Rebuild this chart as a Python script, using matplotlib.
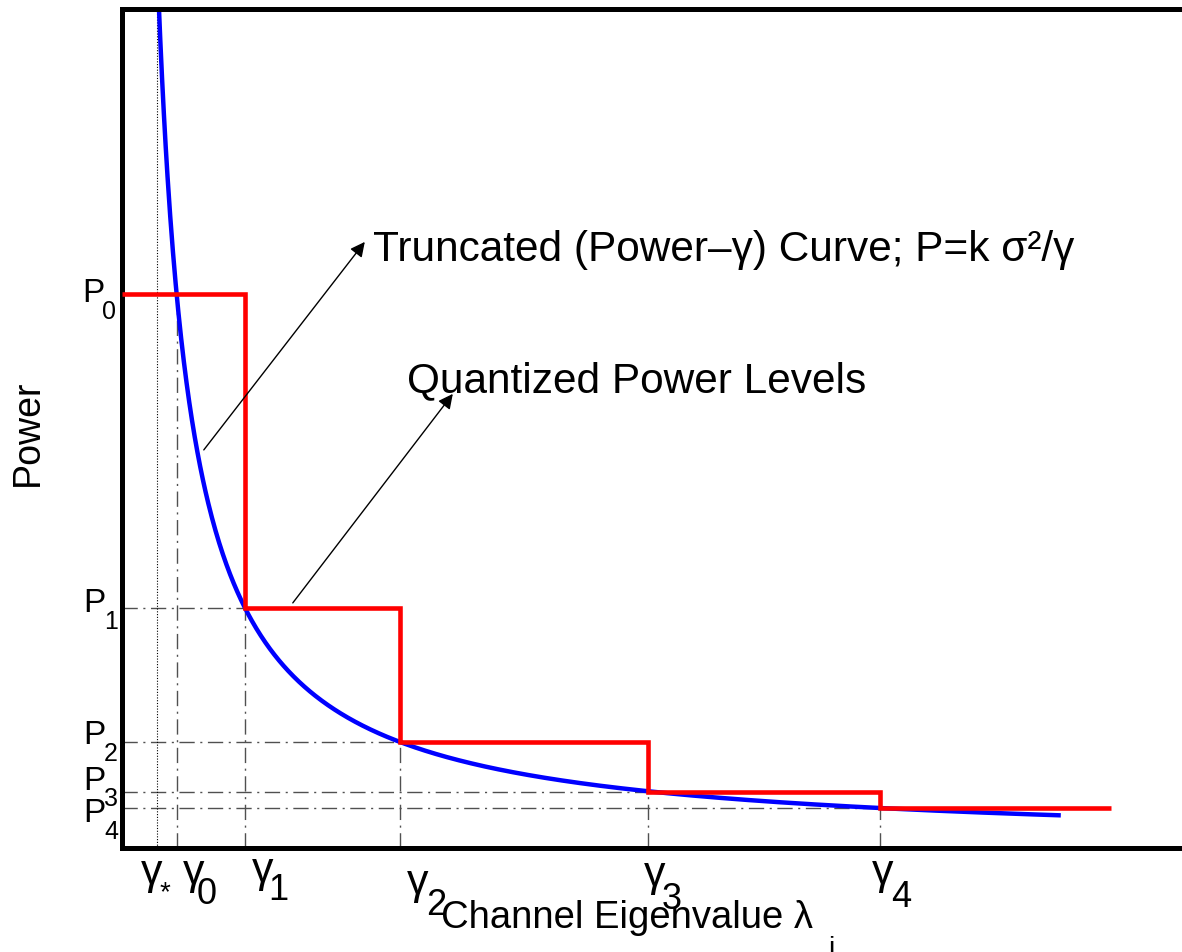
import numpy as np
import matplotlib
matplotlib.use("Agg")
import matplotlib.pyplot as plt

# ---------------- data ----------------
k_sigma2 = 2.86                                  # curve P = k*sigma^2 / gamma
gamma_star = 0.32                                # truncation point gamma_*
gamma_levels = [0.52, 1.20, 2.75, 5.23, 7.55]    # gamma_0 .. gamma_4
power_levels = [5.52, 2.38, 1.04, 0.54, 0.38]    # P_0 .. P_4
curve_gamma_range = [0.30, 9.36]
step_x_start = -0.03
step_x_end = 9.86
gamma_subs = ["*", "0", "1", "2", "3", "4"]
power_subs = ["0", "1", "2", "3", "4"]

plt.rcParams["font.family"] = ["Liberation Sans", "DejaVu Sans"]

W, H = 1182, 952
fig = plt.figure(figsize=(W / 100, H / 100), dpi=100)
AX_L, AX_R, AX_T, AX_B = 122, 1182, 9, 848
ax = fig.add_axes([AX_L / W, 1 - AX_B / H, (AX_R - AX_L) / W, (AX_B - AX_T) / H])
ax.set_xlim(-0.028, 10.572)
ax.set_ylim(-0.021, 8.369)
ax.set_xticks([])
ax.set_yticks([])
for s in ["left", "top", "bottom"]:
    ax.spines[s].set_linewidth(3.6)
ax.spines["right"].set_visible(False)

# helper guide lines (dash-dot)
dd = dict(color="#505050", lw=1.0, linestyle=(0, (11, 4, 1.5, 4)), zorder=1)
for g, p in zip(gamma_levels[1:], power_levels[1:]):
    ax.plot([ax.get_xlim()[0], g], [p, p], **dd)
for g, p in zip(gamma_levels, power_levels):
    ax.plot([g, g], [ax.get_ylim()[0], p], **dd)
ax.axvline(gamma_star, color="k", lw=0.8, linestyle=(0, (1, 1.5)), zorder=1)

# curve
gam = np.linspace(curve_gamma_range[0], curve_gamma_range[1], 1000)
ax.plot(gam, k_sigma2 / gam, color="#0000ff", lw=3.2, zorder=2, solid_capstyle="butt")

# quantized steps
edges = [step_x_start] + gamma_levels[1:] + [step_x_end]
ax.stairs(power_levels, edges, baseline=None, color="#ff0000", lw=3.3, zorder=3)

# ----- tick labels -----
def px_off(text, xy, xycoords, dx, dy, size):
    ax.annotate(text, xy=xy, xycoords=xycoords, xytext=(dx, dy),
                textcoords="offset pixels", ha="left", va="baseline",
                fontsize=size, annotation_clip=False)

# x labels: (gamma left, gamma baseline, sub left, sub baseline) in pixels
xlab_pos = [(141, 884, 160, 900), (183, 884, 197, 904), (252, 882, 268, 900),
            (407, 894, 426, 915), (644, 886, 662, 909), (872, 884, 891, 907)]
xticks_x = [gamma_star] + gamma_levels
for g, sub, (gl, gb, sl, sb) in zip(xticks_x, gamma_subs, xlab_pos):
    gx = AX_L + (g - ax.get_xlim()[0]) / (ax.get_xlim()[1] - ax.get_xlim()[0]) * (AX_R - AX_L)
    px_off("γ", (g, 0), ("data", "axes fraction"), gl - gx, -(gb - AX_B), 31)
    px_off(sub, (g, 0), ("data", "axes fraction"), sl - gx, -(sb - AX_B),
           20 if sub == "*" else 26)

# y labels: (P left, P baseline, sub left, sub baseline)
ylab_pos = [(82, 302, 102, 319), (83, 612, 104, 629), (83, 744, 104, 761),
            (83, 790, 104, 806), (83, 822, 104, 839)]
for p, sub, (pl, pb, sl, sb) in zip(power_levels, power_subs, ylab_pos):
    py = AX_B - (p - ax.get_ylim()[0]) / (ax.get_ylim()[1] - ax.get_ylim()[0]) * (AX_B - AX_T)
    px_off("P", (0, p), ("axes fraction", "data"), pl - AX_L, -(pb - py), 24)
    px_off(sub, (0, p), ("axes fraction", "data"), sl - AX_L, -(sb - py), 18)

# ----- annotations -----
arrow = dict(arrowstyle="-|>", color="k", lw=1.0, mutation_scale=22, shrinkA=0, shrinkB=0)
ax.annotate("", xy=(2.40, 6.04), xytext=(0.79, 3.96), arrowprops=arrow)
ax.annotate("", xy=(3.28, 4.52), xytext=(1.68, 2.43), arrowprops=arrow)
ax.text(2.48, 5.85, "Truncated (Power–γ) Curve; P=k σ²/γ", fontsize=30.5,
        ha="left", va="baseline")
ax.text(2.82, 4.54, "Quantized Power Levels", fontsize=30.5, ha="left", va="baseline")

# ----- axis labels -----
fig.text(28 / W, 1 - 433 / H, "Power", rotation=90, ha="center", va="center", fontsize=27)
fig.text(441 / W, 1 - 928 / H, "Channel Eigenvalue λ", ha="left", va="baseline", fontsize=27.5)
fig.text(828 / W, 1 - 956 / H, "i", ha="left", va="baseline", fontsize=20)

fig.savefig("out.png", dpi=100)
